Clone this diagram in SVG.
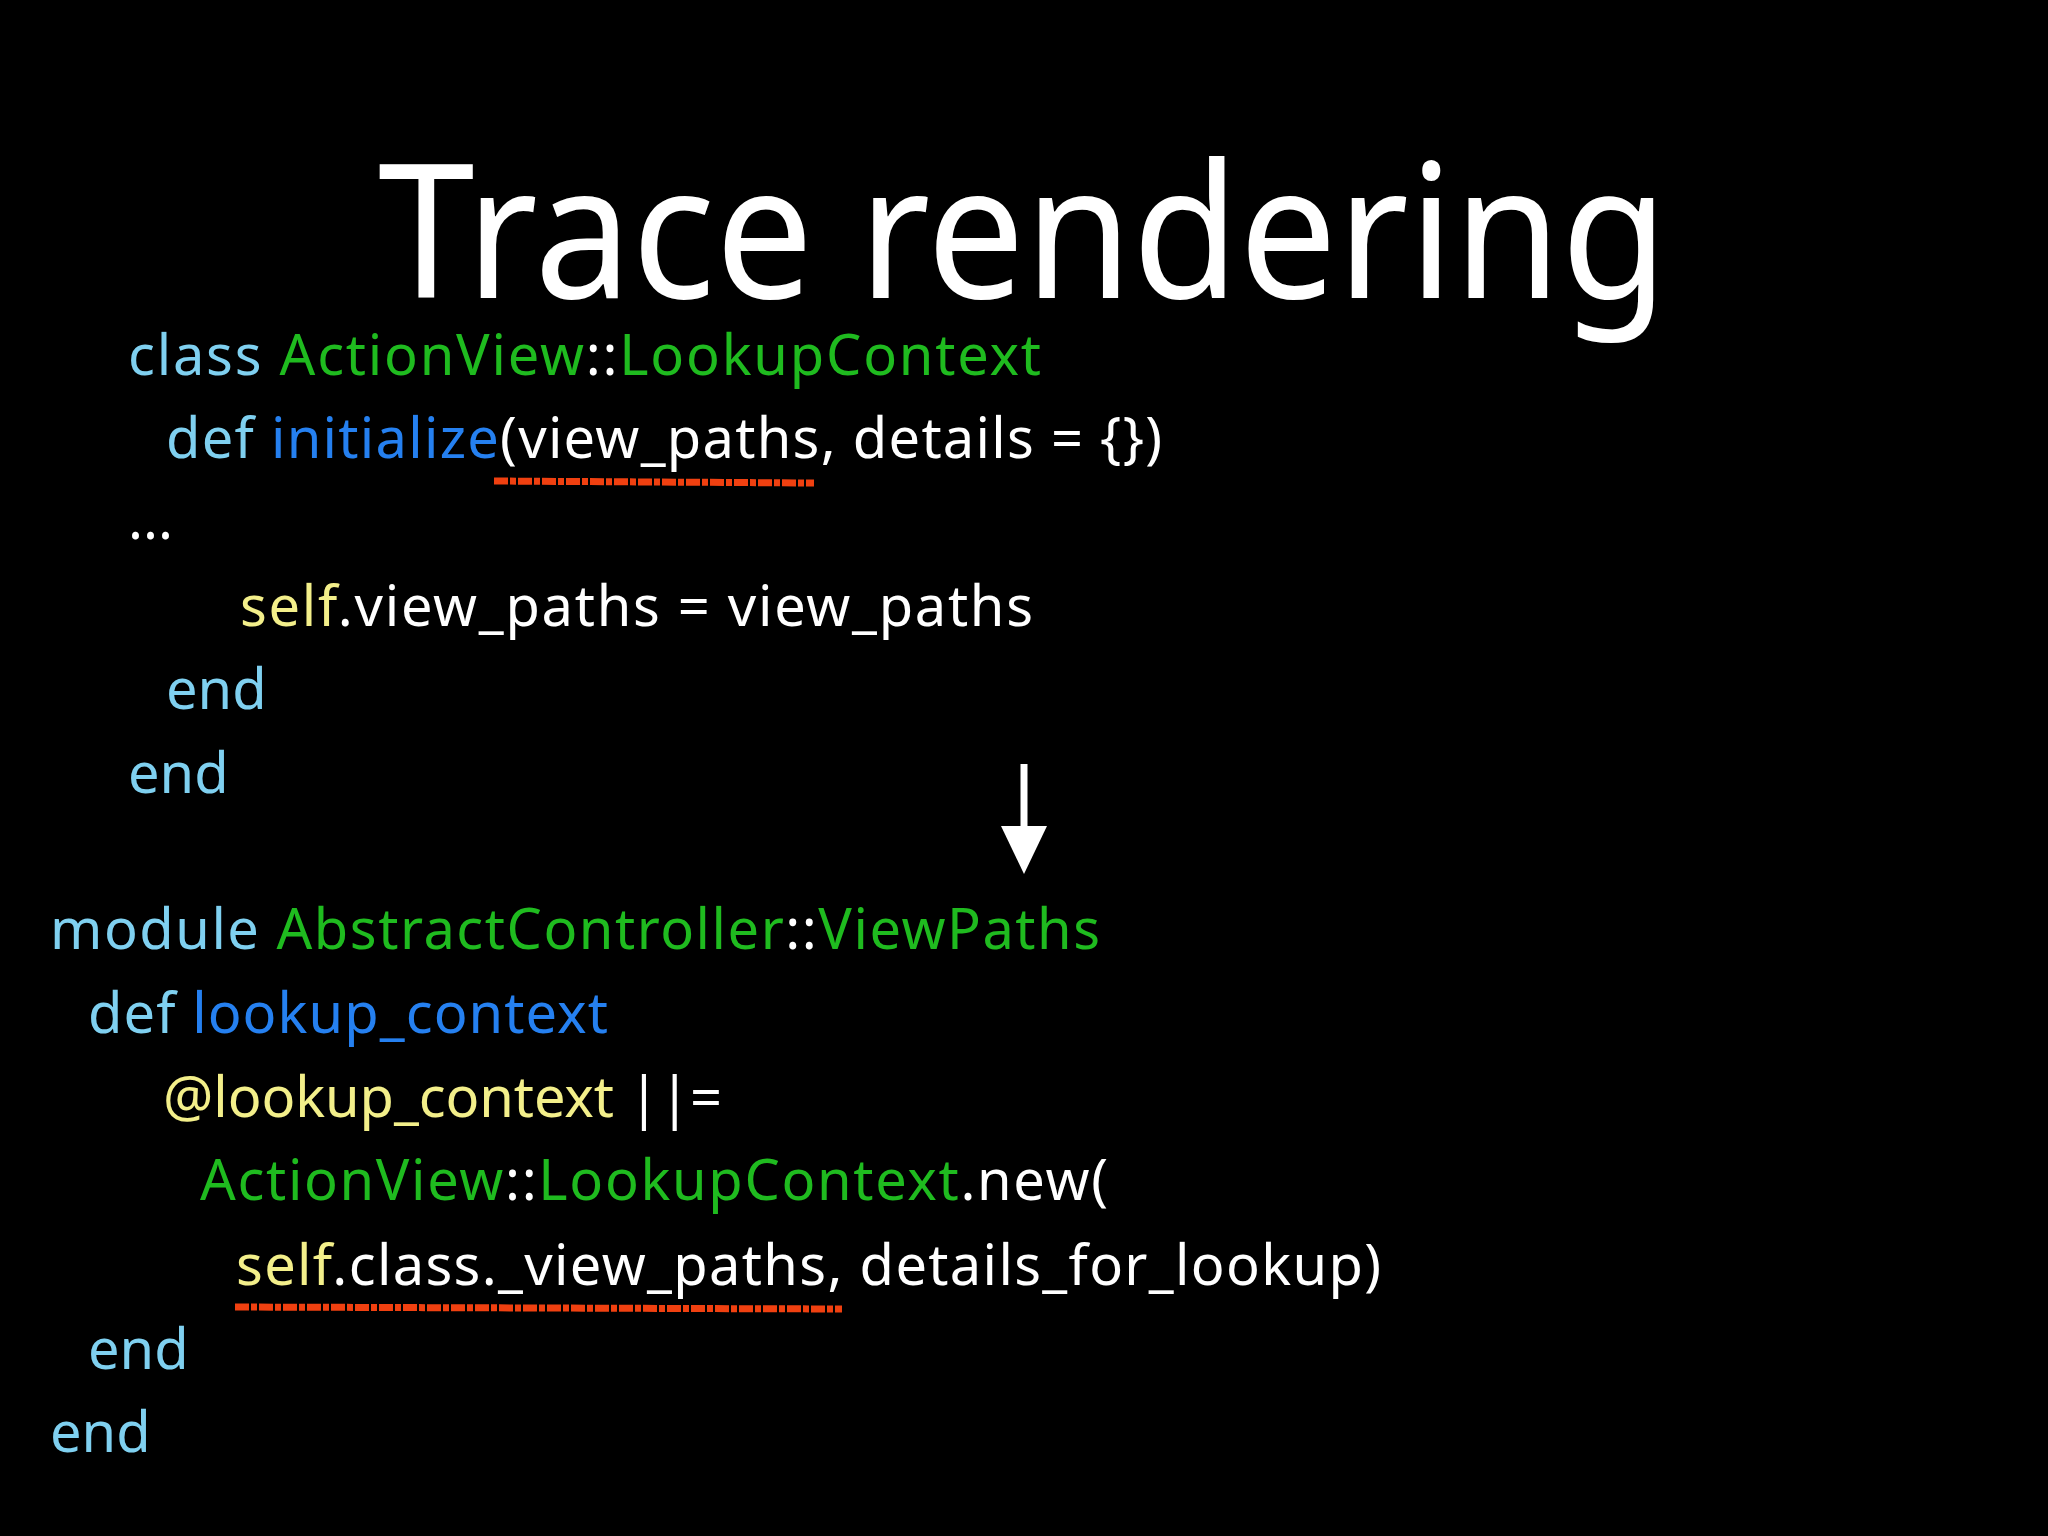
<svg xmlns="http://www.w3.org/2000/svg" width="2048" height="1536" viewBox="0 0 2048 1536">
<style>
text{font-family:"Noto Sans","Liberation Sans",sans-serif;font-size:56px;fill:#fff}
.k{fill:#7fd0f0}.g{fill:#1fbb1f}.b{fill:#2580f0}.y{fill:#f3ef8a}
.u{stroke:#f04010;stroke-width:7;fill:none;stroke-dasharray:14 2 6 2}
</style>
<rect width="2048" height="1536" fill="#000"/>
<text x="378" y="298" style="font-size:186px" textLength="1290" lengthAdjust="spacingAndGlyphs">Trace rendering</text>
<g id="code1">
<text x="128" y="375" textLength="913"><tspan class="k">class </tspan><tspan class="g">ActionView</tspan>::<tspan class="g">LookupContext</tspan></text>
<text x="166" y="458" textLength="996"><tspan class="k">def </tspan><tspan class="b">initialize</tspan>(view_paths, details = {})</text>
<text x="128" y="539">...</text>
<text x="240" y="626" textLength="793"><tspan class="y">self</tspan>.view_paths = view_paths</text>
<text x="166" y="709" class="k">end</text>
<text x="128" y="793" class="k">end</text>
</g>
<g id="code2">
<text x="50" y="949" textLength="1050"><tspan class="k">module </tspan><tspan class="g">AbstractController</tspan>::<tspan class="g">ViewPaths</tspan></text>
<text x="88" y="1033" textLength="520"><tspan class="k">def </tspan><tspan class="b">lookup_context</tspan></text>
<text x="163" y="1117" textLength="559"><tspan class="y">@lookup_context</tspan> ||=</text>
<text x="200" y="1200" textLength="908"><tspan class="g">ActionView</tspan>::<tspan class="g">LookupContext</tspan>.new(</text>
<text x="236" y="1285" textLength="1145"><tspan class="y">self</tspan>.class._view_paths, details_for_lookup)</text>
<text x="88" y="1369" class="k">end</text>
<text x="50" y="1452" class="k">end</text>
</g>
<g id="connectors">
<line x1="1024" y1="764" x2="1024" y2="840" stroke="#fff" stroke-width="7"/>
<polygon points="1001,826 1047,826 1024,874" fill="#fff"/>
<path class="u" d="M494 481 L814 483"/>
<path class="u" d="M235 1307 L842 1309"/>
</g>
</svg>
